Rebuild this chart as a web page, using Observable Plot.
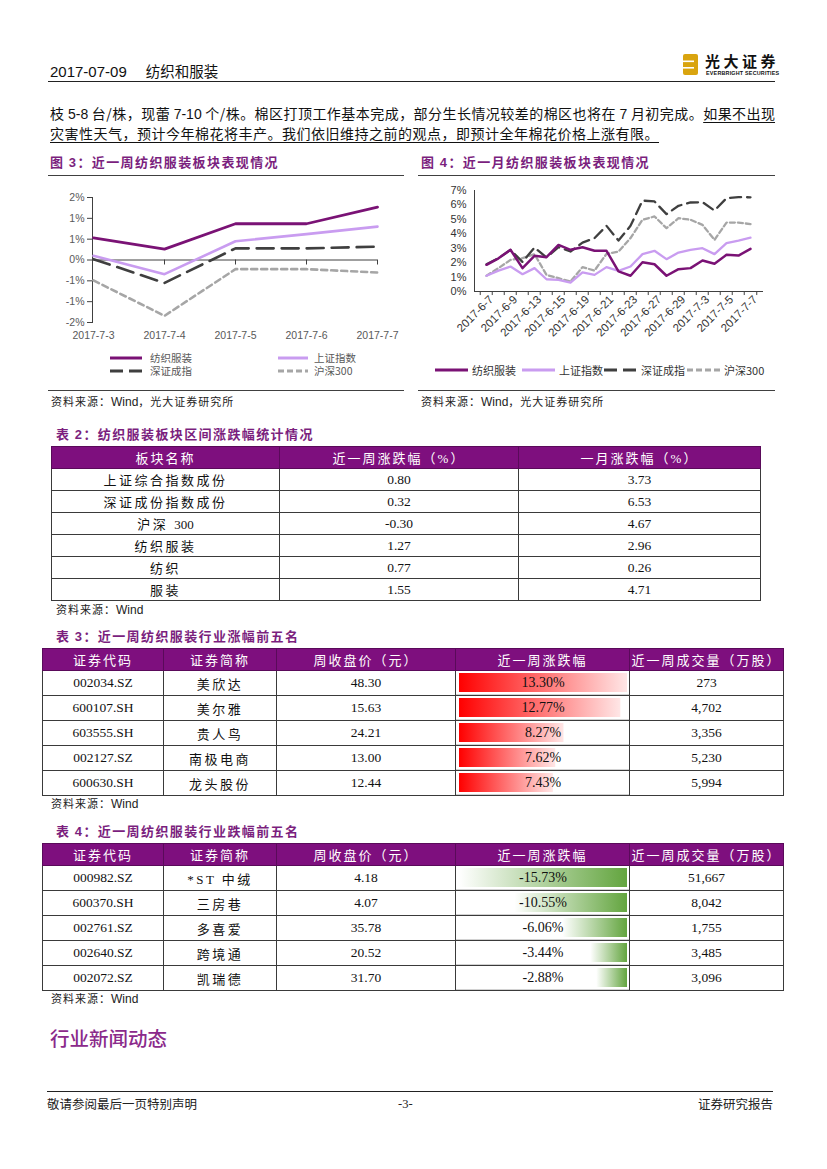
<!DOCTYPE html>
<html><head><meta charset="utf-8">
<script src="https://cdn.jsdelivr.net/npm/d3@7"></script>
<script src="https://cdn.jsdelivr.net/npm/@observablehq/plot@0.6"></script>
<style>
html,body{margin:0;padding:0;background:#fff;}
#page{position:relative;width:827px;height:1169px;overflow:hidden;font-family:"Noto Sans CJK SC",sans-serif;color:#000;}
.abs{position:absolute;white-space:nowrap;}
.hr{position:absolute;height:0;border-top:1px solid #404040;}
.figtitle{position:absolute;font-size:13px;font-weight:700;color:#7B1F7E;letter-spacing:1.4px;line-height:16px;white-space:nowrap;}
.src{position:absolute;font-size:11px;letter-spacing:1px;line-height:14px;color:#222;white-space:nowrap;}
.src b{font-family:"Liberation Sans",sans-serif;font-weight:400;font-size:12px;letter-spacing:0;}
table{border-collapse:collapse;table-layout:fixed;position:absolute;}
td,th{padding:0;text-align:center;border:1px solid #3a3a3a;font-family:"Liberation Serif","Noto Sans CJK SC",serif;font-size:13.5px;font-weight:400;color:#111;white-space:nowrap;overflow:hidden;}
th{background:#7E0F7E;color:#fff;letter-spacing:2px;border-color:#5a0a5a;font-size:13px;}
td.cn{letter-spacing:2.5px;font-size:13px;}
.num{letter-spacing:0;}
.leg{position:absolute;display:flex;align-items:center;font-size:10.5px;line-height:12px;color:#595959;white-space:nowrap;}
.leg svg{display:block;}
</style></head><body><div id="page"></div>
<svg width="0" height="0" style="position:absolute">
<defs>
<linearGradient id="gRed" x1="0" x2="1" y1="0" y2="0"><stop offset="0" stop-color="#FF0000"/><stop offset="1" stop-color="#FFE6E6"/></linearGradient>
<linearGradient id="gGreen" x1="0" x2="1" y1="0" y2="0"><stop offset="0" stop-color="#FFFFFF"/><stop offset="1" stop-color="#63A53F"/></linearGradient>
</defs></svg>
<script>
// ---------- data ----------
const dates3 = ["2017-7-3","2017-7-4","2017-7-5","2017-7-6","2017-7-7"];
const textile3 = [0.53, 0.26, 0.87, 0.87, 1.27];
const shanghai3 = [0.10, -0.34, 0.45, 0.62, 0.80];
const shenzhen3 = [0.02, -0.55, 0.28, 0.28, 0.32];
const hs300_3 = [-0.49, -1.34, -0.22, -0.22, -0.30];
const yTicks3 = [-1.5, -1, -0.5, 0, 0.5, 1, 1.5];
const yTickLabels3 = ["-2%","-1%","-1%","0%","1%","1%","2%"];

const dates4 = ["2017-6-7","2017-6-8","2017-6-9","2017-6-12","2017-6-13","2017-6-14","2017-6-15","2017-6-16","2017-6-19","2017-6-20","2017-6-21","2017-6-22","2017-6-23","2017-6-26","2017-6-27","2017-6-28","2017-6-29","2017-6-30","2017-7-3","2017-7-4","2017-7-5","2017-7-6","2017-7-7"];
const labelDates4 = ["2017-6-7","2017-6-9","2017-6-13","2017-6-15","2017-6-19","2017-6-21","2017-6-23","2017-6-27","2017-6-29","2017-7-3","2017-7-5","2017-7-7"];
const textile4 = [1.85,2.30,2.89,1.62,2.47,2.38,3.23,2.89,3.07,2.82,2.82,1.39,1.09,2.03,1.89,1.09,1.55,1.62,2.15,1.92,2.54,2.49,2.96];
const shanghai4 = [1.09,1.45,1.73,1.20,1.62,0.85,0.81,0.62,1.32,1.15,1.69,1.43,1.73,2.59,2.82,2.24,2.70,2.89,3.00,2.59,3.35,3.53,3.73];
const shenzhen4 = [1.89,2.31,2.89,2.05,3.05,2.36,3.07,2.77,3.39,3.70,4.55,3.53,4.55,6.30,6.24,5.36,5.94,6.17,6.19,5.61,6.47,6.54,6.53];
const hs300_4 = [1.09,1.62,2.19,2.31,2.59,1.15,0.92,0.69,1.69,1.45,2.61,2.77,3.70,4.97,5.20,4.39,5.08,4.97,4.62,3.58,4.78,4.78,4.67];
const yTicks4 = [0,1,2,3,4,5,6,7];

const seriesNames = ["纺织服装","上证指数","深证成指","沪深300"];

const t2Names = ["上证综合指数成份","深证成份指数成份","沪深 300","纺织服装","纺织","服装"];
const t2Week = [0.80, 0.32, -0.30, 1.27, 0.77, 1.55];
const t2Month = [3.73, 6.53, 4.67, 2.96, 0.26, 4.71];
const t2Header = ["板块名称","近一周涨跌幅（%）","一月涨跌幅（%）"];

const rankHeader = ["证券代码","证券简称","周收盘价（元）","近一周涨跌幅","近一周成交量（万股）"];
const gainCodes = ["002034.SZ","600107.SH","603555.SH","002127.SZ","600630.SH"];
const gainNames = ["美欣达","美尔雅","贵人鸟","南极电商","龙头股份"];
const gainClose = [48.30, 15.63, 24.21, 13.00, 12.44];
const gainChange = [13.30, 12.77, 8.27, 7.62, 7.43];
const gainVolume = [273, 4702, 3356, 5230, 5994];

const lossCodes = ["000982.SZ","600370.SH","002761.SZ","002640.SZ","002072.SZ"];
const lossNames = ["*ST 中绒","三房巷","多喜爱","跨境通","凯瑞德"];
const lossClose = [4.18, 4.07, 35.78, 20.52, 31.70];
const lossChange = [-15.73, -10.55, -6.06, -3.44, -2.88];
const lossVolume = [51667, 8042, 1755, 3485, 3096];

// ---------- helpers ----------
const page = document.getElementById("page");
function el(tag, cls, style, html){
  const e = document.createElement(tag);
  if (cls) e.className = cls;
  if (style) e.style.cssText = style;
  if (html != null) e.innerHTML = html;
  page.appendChild(e);
  return e;
}
const f2 = d => d.toFixed(2);
const fComma = d3.format(",");

// ---------- header ----------
el("div","abs",'left:50px;top:62px;font:15px "Liberation Sans","Noto Sans CJK SC",sans-serif;line-height:18px;color:#111;',
  '2017-07-09<span style="display:inline-block;width:19px"></span><span style="font-family:\'Noto Sans CJK SC\';font-size:14.5px">纺织和服装</span>');
el("div","hr","left:48px;top:81px;width:727px;border-top:1.5px solid #222;");
// logo
el("div","abs","left:683px;top:54px;width:15px;height:21px;",
 '<svg width="15" height="21"><rect x="0" y="0" width="15" height="21" rx="2" fill="#D9A40F"/><rect x="0" y="6.5" width="11" height="1.6" fill="#fff"/><rect x="0" y="13" width="11" height="1.6" fill="#fff"/></svg>');
el("div","abs",'left:705px;top:52px;font-size:15px;font-weight:700;letter-spacing:3.5px;line-height:17px;color:#111;',"光大证券");
el("div","abs",'left:706px;top:70px;font:bold 5.4px "Liberation Sans",sans-serif;letter-spacing:0.2px;color:#111;',"EVERBRIGHT SECURITIES");

// ---------- body text ----------
el("div","abs",'left:50px;top:104px;width:725px;font-size:14px;line-height:18px;text-align:justify;text-align-last:justify;white-space:normal;color:#111;',
 '枝 <span style="font-family:\'Liberation Sans\'">5-8</span> 台/株，现蕾 <span style="font-family:\'Liberation Sans\'">7-10</span> 个/株。棉区打顶工作基本完成，部分生长情况较差的棉区也将在 <span style="font-family:\'Liberation Sans\'">7</span> 月初完成。<span style="text-decoration:underline;text-underline-offset:3px">如果不出现</span>');
el("div","abs",'left:50px;top:124px;font-size:14px;line-height:18px;letter-spacing:0.5px;color:#111;text-decoration:underline;text-underline-offset:3px;',
 '灾害性天气，预计今年棉花将丰产。我们依旧维持之前的观点，即预计全年棉花价格上涨有限。');

// ---------- figure titles ----------
el("div","figtitle","left:50px;top:154px;",'图 <span style="font-family:\'Liberation Sans\'">3</span>：近一周纺织服装板块表现情况');
el("div","hr","left:48px;top:175px;width:356px;");
el("div","figtitle","left:421px;top:154px;",'图 <span style="font-family:\'Liberation Sans\'">4</span>：近一月纺织服装板块表现情况');
el("div","hr","left:418px;top:175px;width:357px;");

// ---------- chart 3 ----------
const rows3 = arr => dates3.map((d,i)=>({date:d, value:arr[i]}));
const chart3 = Plot.plot({
  width: 360, height: 165, marginLeft: 52, marginRight: 23, marginTop: 12, marginBottom: 28,
  x: {type: "point", domain: dates3, padding: 0},
  y: {domain: [-1.5, 1.5]},
  style: {fontFamily: '"Liberation Sans", Arial, sans-serif', fontSize: "10.5px", background: "transparent", overflow: "visible"},
  marks: [
    Plot.axisY({ticks: yTicks3, tickFormat: d => yTickLabels3[yTicks3.indexOf(d)], tickSize: 5, tickPadding: 3, stroke: "#404040", fill: "#595959", label: null}),
    Plot.frame({anchor: "left", stroke: "#404040"}),
    Plot.ruleY([0], {stroke: "#404040"}),
    Plot.ruleX(dates3.slice(1), {x: d => d, y1: 0, y2: -0.12, stroke: "#404040"}),
    Plot.axisX({tickSize: 0, tickPadding: 9, fill: "#595959", label: null}),
    Plot.line(rows3(hs300_3), {x: "date", y: "value", stroke: "#A6A6A6", strokeWidth: 2.6, strokeDasharray: "6,4"}),
    Plot.line(rows3(shenzhen3), {x: "date", y: "value", stroke: "#3F3F3F", strokeWidth: 2.6, strokeDasharray: "17,8"}),
    Plot.line(rows3(shanghai3), {x: "date", y: "value", stroke: "#C99CF0", strokeWidth: 2.6}),
    Plot.line(rows3(textile3), {x: "date", y: "value", stroke: "#7A1275", strokeWidth: 2.8})
  ]
});
chart3.style.position = "absolute"; chart3.style.left = "40px"; chart3.style.top = "185px";
page.appendChild(chart3);

function swatch(color, dash, w){
  return `<svg width="${w}" height="6"><line x1="0" x2="${w}" y1="3" y2="3" stroke="${color}" stroke-width="3" ${dash ? `stroke-dasharray="${dash}"` : ""}/></svg>`;
}
const legStyles = [["#7A1275",null],["#C99CF0",null],["#3F3F3F","13,6"],["#A6A6A6","6,3"]];
el("div","leg","left:110px;top:352px;", swatch(legStyles[0][0],null,32)+'<span style="margin-left:8px">'+seriesNames[0]+'</span>');
el("div","leg","left:278px;top:352px;", swatch(legStyles[1][0],null,30)+'<span style="margin-left:6px">'+seriesNames[1]+'</span>');
el("div","leg","left:110px;top:365px;", swatch(legStyles[2][0],legStyles[2][1],32)+'<span style="margin-left:8px">'+seriesNames[2]+'</span>');
el("div","leg","left:278px;top:365px;", swatch(legStyles[3][0],legStyles[3][1],30)+'<span style="margin-left:6px">'+seriesNames[3]+'</span>');

// ---------- chart 4 ----------
const rows4 = arr => dates4.map((d,i)=>({date:d, value:arr[i]}));
const w4 = 380, ml4 = 64, mr4 = 28;
const step4 = (w4 - ml4 - mr4) / dates4.length;
const chart4 = Plot.plot({
  width: w4, height: 175, marginLeft: ml4, marginRight: mr4, marginTop: 10, marginBottom: 64,
  x: {type: "point", domain: dates4, padding: 0.5},
  y: {domain: [0, 7]},
  style: {fontFamily: '"Liberation Sans", Arial, sans-serif', fontSize: "11px", background: "transparent", overflow: "visible"},
  marks: [
    Plot.axisY({ticks: yTicks4, tickFormat: d => d + "%", tickSize: 0, tickPadding: 8, fill: "#333", label: null}),
    Plot.frame({anchor: "left", stroke: "#404040"}),
    Plot.frame({anchor: "bottom", stroke: "#404040"}),
    Plot.ruleX(dates4, {x: d => d, y1: 0, y2: -0.28, dx: -step4/2, stroke: "#404040"}),
    Plot.ruleX(dates4.slice(-1), {x: d => d, y1: 0, y2: -0.28, dx: step4/2, stroke: "#404040"}),
    Plot.axisX({ticks: labelDates4, tickRotate: -45, tickSize: 0, tickPadding: 6, dx: 5, fill: "#333", fontSize: 11.5, label: null}),
    Plot.line(rows4(hs300_4), {x: "date", y: "value", stroke: "#A6A6A6", strokeWidth: 2.3, strokeDasharray: "5,3"}),
    Plot.line(rows4(shenzhen4), {x: "date", y: "value", stroke: "#3F3F3F", strokeWidth: 2.3, strokeDasharray: "11,6"}),
    Plot.line(rows4(shanghai4), {x: "date", y: "value", stroke: "#C99CF0", strokeWidth: 2.3}),
    Plot.line(rows4(textile4), {x: "date", y: "value", stroke: "#7A1275", strokeWidth: 2.5})
  ]
});
chart4.style.position = "absolute"; chart4.style.left = "410px"; chart4.style.top = "180px";
page.appendChild(chart4);

const leg4 = [[435,33],[522,33],[604,33],[687,33]];
leg4.forEach(([x,w],i) => {
  el("div","leg",`left:${x}px;top:364px;font-size:11px;color:#333;`,
     swatch(legStyles[i][0], legStyles[i][1], w) + '<span style="margin-left:4px">' + seriesNames[i] + '</span>');
});

// ---------- sources ----------
el("div","hr","left:48px;top:390px;width:356px;");
el("div","hr","left:418px;top:390px;width:357px;");
el("div","src","left:51px;top:394px;",'资料来源：<b>Wind</b>，光大证券研究所');
el("div","src","left:421px;top:394px;",'资料来源：<b>Wind</b>，光大证券研究所');

// ---------- table 2 ----------
el("div","figtitle","left:56px;top:426px;",'表 <span style="font-family:\'Liberation Sans\'">2</span>：纺织服装板块区间涨跌幅统计情况');
(function(){
  const t = el("table","", "left:51px;top:446px;width:709px;");
  let h = '<colgroup><col style="width:228px"><col style="width:239px"><col style="width:242px"></colgroup>';
  h += '<tr style="height:22px">' + t2Header.map(s=>`<th>${s}</th>`).join("") + '</tr>';
  t2Names.forEach((n,i)=>{
    const name = n.replace(/(\d+)/g, '<span class="num">$1</span>');
    h += `<tr style="height:22px"><td class="cn">${name}</td><td>${f2(t2Week[i])}</td><td>${f2(t2Month[i])}</td></tr>`;
  });
  t.innerHTML = h;
})();
el("div","src","left:56px;top:602px;",'资料来源：<b>Wind</b>');

// ---------- ranking tables ----------
function barCell(v, domain, grad){
  const neg = v < 0;
  return Plot.plot({
    width: 173, height: 23, margin: 0,
    x: {domain, range: [3, 171], axis: null},
    style: {background: "transparent", display: "block"},
    marks: [
      Plot.frame({anchor: "bottom", stroke: "#d2d2d2", strokeWidth: 3}),
      Plot.barX([v], neg ? {x1: d => d, x2: 0, fill: grad, insetTop: 1, insetBottom: 3}
                         : {x1: 0, x2: d => d, fill: grad, insetTop: 1, insetBottom: 3}),
      Plot.text([v], {text: d => f2(d) + "%", frameAnchor: "middle", dy: -1, fontSize: 14, fontFamily: '"Liberation Serif", serif', fill: "#111"})
    ]
  });
}
function rankTable(top, codes, names, close, change, vol, domain, grad){
  const t = el("table","", `left:42px;top:${top}px;width:741px;`);
  let h = '<colgroup><col style="width:121px"><col style="width:113px"><col style="width:179px"><col style="width:174px"><col style="width:154px"></colgroup>';
  h += '<tr style="height:22px">' + rankHeader.map(s=>`<th>${s}</th>`).join("") + '</tr>';
  codes.forEach((c,i)=>{
    h += `<tr style="height:25px"><td>${c}</td><td class="cn">${names[i]}</td><td>${f2(close[i])}</td><td id="bc${top}_${i}"></td><td>${fComma(vol[i])}</td></tr>`;
  });
  t.innerHTML = h;
  change.forEach((v,i)=>{
    document.getElementById(`bc${top}_${i}`).appendChild(barCell(v, domain, grad));
  });
}
el("div","figtitle","left:56px;top:628px;",'表 <span style="font-family:\'Liberation Sans\'">3</span>：近一周纺织服装行业涨幅前五名');
rankTable(648, gainCodes, gainNames, gainClose, gainChange, gainVolume, [0, d3.max(gainChange)], "url(#gRed)");
el("div","src","left:51px;top:796px;",'资料来源：<b>Wind</b>');

el("div","figtitle","left:56px;top:823px;",'表 <span style="font-family:\'Liberation Sans\'">4</span>：近一周纺织服装行业跌幅前五名');
rankTable(843, lossCodes, lossNames, lossClose, lossChange, lossVolume, [d3.min(lossChange), 0], "url(#gGreen)");
el("div","src","left:51px;top:991px;",'资料来源：<b>Wind</b>');

// ---------- section heading ----------
el("div","abs","left:50px;top:1026px;font-size:19.5px;line-height:23px;font-weight:500;color:#8B2A8B;","行业新闻动态");

// ---------- footer ----------
el("div","hr","left:47px;top:1091px;width:726px;border-top:1px solid #222;");
el("div","abs","left:47px;top:1096px;font-size:12.5px;line-height:16px;color:#222;","敬请参阅最后一页特别声明");
el("div","abs",'left:398px;top:1096px;font:12.5px "Liberation Serif",serif;line-height:16px;color:#222;',"-3-");
el("div","abs","right:54px;top:1096px;font-size:12.5px;line-height:16px;color:#222;","证券研究报告");
</script></body></html>
